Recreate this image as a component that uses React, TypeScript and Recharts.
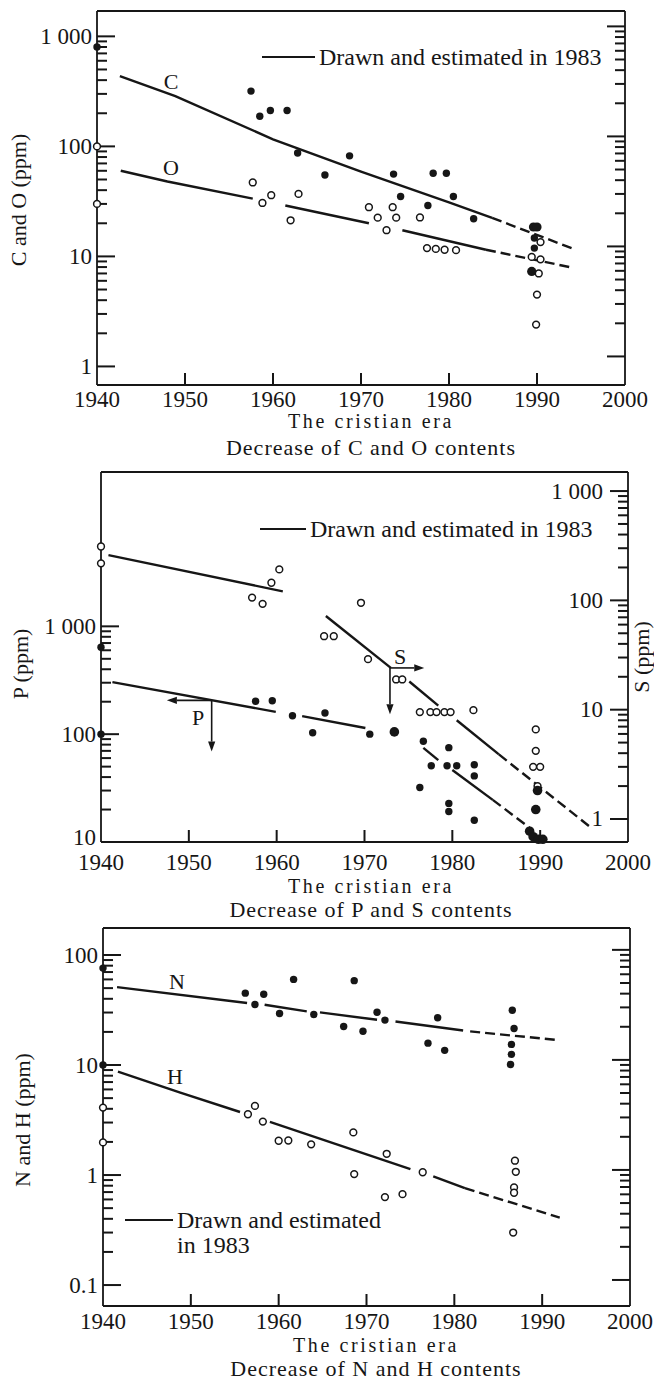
import React from 'react';
import { ComposedChart, Scatter, XAxis, YAxis, ReferenceLine } from 'recharts';

type Pt = [number, number];

const FONT = '"Liberation Serif", "Times New Roman", serif';
const INK = '#161616';

const YEAR_TICKS = [1940, 1950, 1960, 1970, 1980, 1990, 2000];
const INNER_YEARS = [1950, 1960, 1970, 1980, 1990];
const DECADE_LABELS: Record<string, string> = { '0.1': '0.1', '1': '1', '10': '10', '100': '100', '1000': '1 000' };

// ---- C and O (top panel) ----
const C_DOTS: Pt[] = [
  [1940, 800], [1957.5, 318], [1958.5, 188], [1959.7, 212], [1961.6, 212], [1962.8, 87],
  [1965.9, 55], [1968.7, 82], [1973.7, 56], [1974.5, 35], [1977.6, 29], [1978.2, 57],
  [1979.7, 57], [1980.5, 35], [1982.8, 22], [1989.7, 14.7], [1989.7, 11.9],
];
const C_BIG: Pt[] = [[1989.6, 18.5], [1990.0, 18.5], [1989.4, 7.3]];
const O_DOTS: Pt[] = [
  [1940, 100], [1940, 30], [1957.7, 47], [1958.8, 30.6], [1959.8, 36], [1962.0, 21.3],
  [1962.9, 37], [1970.9, 28], [1971.9, 22.5], [1972.9, 17.3], [1973.6, 28], [1974.0, 22.5],
  [1976.7, 22.6], [1977.5, 11.9], [1978.5, 11.7], [1979.5, 11.5], [1980.8, 11.4],
  [1989.4, 9.9], [1990.4, 13.5], [1990.4, 9.4], [1990.2, 7.0], [1990.0, 4.5], [1989.9, 2.4],
];
const C_LINE: Pt[][] = [[[1942.6, 435], [1948.9, 286], [1960, 116], [1970, 59], [1980, 31], [1984.9, 22.4]]];
const C_DASH: Pt[][] = [[[1984.9, 22.4], [1994.4, 11.5]]];
const O_LINE: Pt[][] = [
  [[1942.7, 60], [1948, 48], [1957.7, 33.5]],
  [[1961.4, 29], [1970.9, 20]],
  [[1974.7, 17.3], [1984.2, 11.5]],
];
const O_DASH: Pt[][] = [[[1984.2, 11.5], [1993.7, 8.0]]];

// ---- P and S (middle panel) ----
const P_DOTS: Pt[] = [
  [1940, 640], [1940, 100], [1957.6, 202], [1959.5, 204], [1961.8, 148], [1965.5, 157],
  [1964.1, 103], [1970.6, 100], [1976.7, 86], [1976.3, 32], [1977.6, 51], [1979.6, 75],
  [1979.4, 51], [1980.5, 51], [1979.6, 22.8], [1979.6, 19.2], [1982.5, 52], [1982.5, 41],
  [1982.5, 15.9],
];
const P_BIG: Pt[] = [
  [1973.4, 105], [1989.5, 20], [1989.7, 30], [1988.8, 12.6], [1989.2, 11.2], [1989.8, 10.6], [1990.3, 10.6],
];
const S_DOTS: Pt[] = [
  [1940, 311], [1940, 218], [1957.2, 106], [1958.4, 93], [1959.4, 145], [1960.3, 192],
  [1965.4, 47], [1966.5, 47], [1969.6, 95], [1970.4, 29], [1973.6, 18.9], [1974.3, 18.9],
  [1976.3, 9.5], [1977.5, 9.5], [1978.2, 9.5], [1979.1, 9.5], [1979.8, 9.5], [1982.4, 9.9],
  [1989.5, 6.6], [1989.5, 4.2], [1989.2, 3.0], [1990.0, 3.0], [1989.7, 2.0],
];
const P_LINE: Pt[][] = [
  [[1941.3, 304], [1959.9, 161]],
  [[1962.9, 147], [1970.1, 114]],
  [[1976.7, 74.7], [1978.4, 57.5]],
  [[1980.0, 46.5], [1984.6, 24.6]],
];
const P_DASH: Pt[][] = [[[1984.6, 24.6], [1989.1, 13]]];
const S_LINE: Pt[][] = [
  [[1940.85, 259], [1960.7, 121]],
  [[1965.6, 72], [1973.0, 24.1]],
  [[1975.1, 18.1], [1978.4, 10.9]],
  [[1980.5, 8.0], [1985.3, 3.9]],
];
const S_DASH: Pt[][] = [[[1985.3, 3.9], [1995.9, 0.82]]];
// arrows pointing each group to its own axis
const P_ARROWS: Pt[][] = [
  [[1952.6, 206], [1947.5, 206]],
  [[1952.6, 206], [1952.6, 69]],
];
const S_ARROWS: Pt[][] = [
  [[1972.9, 24.1], [1976.8, 24.1]],
  [[1972.9, 24.1], [1972.9, 9.1]],
];

// ---- N and H (bottom panel) ----
const N_DOTS: Pt[] = [
  [1940, 76], [1940, 10], [1956.2, 45], [1957.3, 35.5], [1958.3, 44], [1960.1, 29.4],
  [1961.7, 60], [1964.0, 28.8], [1967.4, 22.4], [1968.6, 58.5], [1969.6, 20.3], [1971.2, 30.2],
  [1972.1, 25.6], [1977.0, 15.8], [1978.1, 26.9], [1978.9, 13.6], [1986.6, 31.5],
  [1986.8, 21.5], [1986.5, 15.4], [1986.5, 12.5], [1986.4, 10.1],
];
const H_DOTS: Pt[] = [
  [1940, 4.1], [1940, 1.98], [1956.5, 3.57], [1957.3, 4.25], [1958.2, 3.06], [1960.0, 2.05],
  [1961.1, 2.06], [1963.7, 1.9], [1968.5, 2.44], [1968.6, 1.02], [1972.3, 1.56], [1972.1, 0.63],
  [1974.1, 0.67], [1976.4, 1.06], [1986.9, 1.35], [1987.0, 1.07], [1986.8, 0.77], [1986.8, 0.69],
  [1986.7, 0.3],
];
const N_LINE: Pt[][] = [
  [[1941.6, 51], [1956.4, 36.6]],
  [[1958.4, 35.3], [1963.2, 30.7]],
  [[1964.7, 30.1], [1971.2, 25.8]],
  [[1973.3, 24.9], [1981.0, 20.6]],
];
const N_DASH: Pt[][] = [[[1981.8, 20.2], [1992.0, 16.8]]];
const H_LINE: Pt[][] = [
  [[1941.7, 8.7], [1948.8, 5.6], [1955.6, 3.74]],
  [[1959.0, 3.04], [1975.0, 1.13]],
  [[1977.6, 0.97], [1981.2, 0.76]],
];
const H_DASH: Pt[][] = [[[1981.2, 0.76], [1992.0, 0.41]]];

const xy = (pts: Pt[]) => pts.map(([x, y]) => ({ x, y }));

function logTicks(lo: number, hi: number, decades: boolean) {
  const out: number[] = [];
  for (let e = -2; e <= 4; e++) {
    for (let m = 1; m <= 9; m++) {
      if ((m === 1) !== decades) continue;
      const v = Number((m * Math.pow(10, e)).toPrecision(3));
      if (v >= lo * 0.999 && v <= hi * 1.001) out.push(v);
    }
  }
  return out;
}

const MAJOR = 18;
const MINOR = 10;
const XTICK = 12;
const TW = 2;
const AX = { stroke: INK, strokeWidth: 1.8 };

function makeYLabel(gap: number | null, lift = 0) {
  return (props: any) => {
    const { x, y, payload } = props;
    if (gap === null) return <g />;
    const bottom = props.index === 0 ? lift : 0;
    return (
      <text x={Number(x) - gap} y={Number(y) - bottom} textAnchor="end" dominantBaseline="central"
        fontFamily={FONT} fontSize={23} fill={INK}>
        {DECADE_LABELS[String(payload.value)]}
      </text>
    );
  };
}

function makeXLabel(dy: number) {
  return (props: any) => {
    const { x, y, payload } = props;
    return (
      <text x={x} y={Number(y) + dy} textAnchor="middle" dominantBaseline="central"
        fontFamily={FONT} fontSize={23} fill={INK}>
        {payload.value}
      </text>
    );
  };
}

// inward tick marks, placed through the axis scales as symbols sitting on the frame
const hTick = (dir: number, len: number) => (p: any) => {
  const x0 = Number(p.cx);
  const y0 = Number(p.cy);
  return <path d={`M${x0},${y0}H${x0 + dir * len}`} stroke={INK} strokeWidth={TW} fill="none" />;
};
const vTick = (p: any) => {
  const x0 = Number(p.cx);
  const y0 = Number(p.cy);
  return <path d={`M${x0},${y0}V${y0 - XTICK}`} stroke={INK} strokeWidth={TW} fill="none" />;
};

function yTicks(id: string, side: 'left' | 'right', lo: number, hi: number) {
  const edge = side === 'left' ? 1940 : 2000;
  const dir = side === 'left' ? 1 : -1;
  return [
    <Scatter key={id + '-major'} yAxisId={id} data={logTicks(lo, hi, true).map((v) => ({ x: edge, y: v }))}
      shape={hTick(dir, MAJOR)} isAnimationActive={false} />,
    <Scatter key={id + '-minor'} yAxisId={id} data={logTicks(lo, hi, false).map((v) => ({ x: edge, y: v }))}
      shape={hTick(dir, MINOR)} isAnimationActive={false} />,
  ];
}

function xTicks(yAxisId: string, floor: number) {
  return (
    <Scatter key="year-ticks" yAxisId={yAxisId} data={INNER_YEARS.map((v) => ({ x: v, y: floor }))}
      shape={vTick} isAnimationActive={false} />
  );
}

const filled = (r: number) => (p: any) => <circle cx={p.cx} cy={p.cy} r={r} fill={INK} />;
const openDot = (p: any) => <circle cx={p.cx} cy={p.cy} r={3.4} fill="#fff" stroke={INK} strokeWidth={1.5} />;
const noDot = () => <g />;

function Arrow(props: any) {
  const { x1, y1, x2, y2 } = props;
  const a = Math.atan2(y2 - y1, x2 - x1);
  const L = 10;
  const Wd = 3.6;
  const bx = x2 - L * Math.cos(a);
  const by = y2 - L * Math.sin(a);
  const px = -Math.sin(a) * Wd;
  const py = Math.cos(a) * Wd;
  return (
    <g>
      <line x1={x1} y1={y1} x2={bx} y2={by} stroke={INK} strokeWidth={1.6} />
      <polygon points={`${x2},${y2} ${bx + px},${by + py} ${bx - px},${by - py}`} fill={INK} />
    </g>
  );
}

function trend(segs: Pt[][], yAxisId: string, dashed: boolean, key: string) {
  return segs.map((s, i) => (
    <Scatter
      key={key + i}
      data={xy(s)}
      yAxisId={yAxisId}
      shape={noDot}
      line={dashed ? { stroke: INK, strokeWidth: 2.4, strokeDasharray: '10 5' } : { stroke: INK, strokeWidth: 2.4 }}
      isAnimationActive={false}
    />
  ));
}

function frameX(dy: number) {
  return [
    <XAxis key="xb" type="number" dataKey="x" domain={[1940, 2000]} ticks={YEAR_TICKS} interval={0}
      tick={makeXLabel(dy)} tickLine={false} tickSize={0} tickMargin={0} height={1} axisLine={AX} />,
    <XAxis key="xtop" xAxisId="top" orientation="top" type="number" dataKey="x" domain={[1940, 2000]}
      tick={false} tickLine={false} height={1} axisLine={AX} />,
  ];
}

function yAxis(id: string, side: 'left' | 'right', domain: [number, number], lo: number, hi: number, gap: number | null, lift = 0) {
  return (
    <YAxis key={id} yAxisId={id} orientation={side} type="number" dataKey="y" scale="log" domain={domain}
      ticks={logTicks(lo, hi, true)} interval={0} tick={makeYLabel(gap, lift)} tickLine={false}
      tickSize={0} tickMargin={0} width={1} axisLine={AX} />
  );
}

function Txt({ x, y, size = 22, ls = 0, rot = 0, children }: any) {
  return (
    <div style={{
      position: 'absolute', left: x, top: y, transform: `translate(-50%, -50%) rotate(${rot}deg)`,
      fontFamily: FONT, fontSize: size, letterSpacing: ls, lineHeight: 1, whiteSpace: 'nowrap', color: INK,
    }}>
      {children}
    </div>
  );
}

function Key({ x1, x2, y, lines }: { x1: number; x2: number; y: number; lines: string[] }) {
  return (
    <>
      <div style={{ position: 'absolute', left: x1, top: y - 1.3, width: x2 - x1, height: 2.6, background: INK }} />
      {lines.map((t, i) => (
        <div key={t} style={{
          position: 'absolute', left: x2 + 4, top: y + i * 25, transform: 'translateY(-50%)',
          fontFamily: FONT, fontSize: 24, lineHeight: 1, whiteSpace: 'nowrap', color: INK,
        }}>
          {t}
        </div>
      ))}
    </>
  );
}

// plot boxes (page px): top 97..625 x 11..385, middle 101..628 x 472..842, bottom 103..630 x 928..1306
export default function App() {
  return (
    <div style={{ position: 'absolute', left: 0, top: 0, width: 654, height: 1381, overflow: 'hidden', background: '#fff' }}>
      {/* C and O */}
      <div style={{ position: 'absolute', left: 0, top: 0 }}>
        <ComposedChart width={654} height={460} margin={{ top: 10, right: 28, bottom: 74, left: 96 }}>
          {frameX(14)}
          {yAxis('L', 'left', [0.678, 1700], 1, 1000, 5)}
          {yAxis('R', 'right', [0.55, 1380], 1, 1000, null)}
          {yTicks('L', 'left', 1, 1000)}
          {yTicks('R', 'right', 1, 1000)}
          {xTicks('L', 0.678)}
          {trend(C_LINE, 'L', false, 'cl')}
          {trend(C_DASH, 'L', true, 'cd')}
          {trend(O_LINE, 'L', false, 'ol')}
          {trend(O_DASH, 'L', true, 'od')}
          <Scatter data={xy(O_DOTS)} yAxisId="L" shape={openDot} isAnimationActive={false} />
          <Scatter data={xy(C_DOTS)} yAxisId="L" shape={filled(3.7)} isAnimationActive={false} />
          <Scatter data={xy(C_BIG)} yAxisId="L" shape={filled(4.6)} isAnimationActive={false} />
        </ComposedChart>
      </div>
      <Txt x={171} y={82}>C</Txt>
      <Txt x={171} y={168}>O</Txt>
      <Key x1={262} x2={315} y={57} lines={['Drawn and estimated in 1983']} />
      <Txt x={19} y={200} rot={-90}>C and O (ppm)</Txt>
      <Txt x={371} y={421} size={20} ls={2.6}>The cristian era</Txt>
      <Txt x={371} y={448} size={22} ls={1}>Decrease of C and O contents</Txt>

      {/* P and S */}
      <div style={{ position: 'absolute', left: 0, top: 460 }}>
        <ComposedChart width={654} height={460} margin={{ top: 11, right: 25, bottom: 77, left: 100 }}>
          {frameX(20)}
          {yAxis('P', 'left', [10, 27000], 10, 1000, 5, 5)}
          {yAxis('S', 'right', [0.616, 1494], 1, 1000, 25)}
          {yTicks('P', 'left', 10, 1000)}
          {yTicks('S', 'right', 1, 1000)}
          {xTicks('P', 10)}
          {trend(P_LINE, 'P', false, 'pl')}
          {trend(P_DASH, 'P', true, 'pd')}
          {trend(S_LINE, 'S', false, 'sl')}
          {trend(S_DASH, 'S', true, 'sd')}
          {P_ARROWS.map((s, i) => (
            <ReferenceLine key={'pa' + i} yAxisId="P" segment={[{ x: s[0][0], y: s[0][1] }, { x: s[1][0], y: s[1][1] }]} shape={Arrow} />
          ))}
          {S_ARROWS.map((s, i) => (
            <ReferenceLine key={'sa' + i} yAxisId="S" segment={[{ x: s[0][0], y: s[0][1] }, { x: s[1][0], y: s[1][1] }]} shape={Arrow} />
          ))}
          <Scatter data={xy(S_DOTS)} yAxisId="S" shape={openDot} isAnimationActive={false} />
          <Scatter data={xy(P_DOTS)} yAxisId="P" shape={filled(3.7)} isAnimationActive={false} />
          <Scatter data={xy(P_BIG)} yAxisId="P" shape={filled(4.8)} isAnimationActive={false} />
        </ComposedChart>
      </div>
      <Txt x={198} y={718}>P</Txt>
      <Txt x={400} y={657}>S</Txt>
      <Key x1={260} x2={306} y={529} lines={['Drawn and estimated in 1983']} />
      <Txt x={21} y={664} rot={-90}>P (ppm)</Txt>
      <Txt x={642} y={657} rot={-90}>S (ppm)</Txt>
      <Txt x={371} y={886} size={20} ls={2.6}>The cristian era</Txt>
      <Txt x={371} y={910} size={22} ls={1}>Decrease of P and S contents</Txt>

      {/* N and H */}
      <div style={{ position: 'absolute', left: 0, top: 920 }}>
        <ComposedChart width={654} height={461} margin={{ top: 7, right: 23, bottom: 74, left: 102 }}>
          {frameX(15)}
          {yAxis('L', 'left', [0.0645, 176], 0.1, 100, 5)}
          {yAxis('R', 'right', [0.058, 158], 0.1, 100, null)}
          {yTicks('L', 'left', 0.1, 100)}
          {yTicks('R', 'right', 0.1, 100)}
          {xTicks('L', 0.0645)}
          {trend(N_LINE, 'L', false, 'nl')}
          {trend(N_DASH, 'L', true, 'nd')}
          {trend(H_LINE, 'L', false, 'hl')}
          {trend(H_DASH, 'L', true, 'hd')}
          <Scatter data={xy(H_DOTS)} yAxisId="L" shape={openDot} isAnimationActive={false} />
          <Scatter data={xy(N_DOTS)} yAxisId="L" shape={filled(3.7)} isAnimationActive={false} />
        </ComposedChart>
      </div>
      <Txt x={177} y={982}>N</Txt>
      <Txt x={175} y={1077}>H</Txt>
      <Key x1={125} x2={173} y={1220} lines={['Drawn and estimated', 'in 1983']} />
      <Txt x={23} y={1120} rot={-90}>N and H (ppm)</Txt>
      <Txt x={376} y={1345} size={20} ls={2.6}>The cristian era</Txt>
      <Txt x={376} y={1369} size={22} ls={1}>Decrease of N and H contents</Txt>
    </div>
  );
}
